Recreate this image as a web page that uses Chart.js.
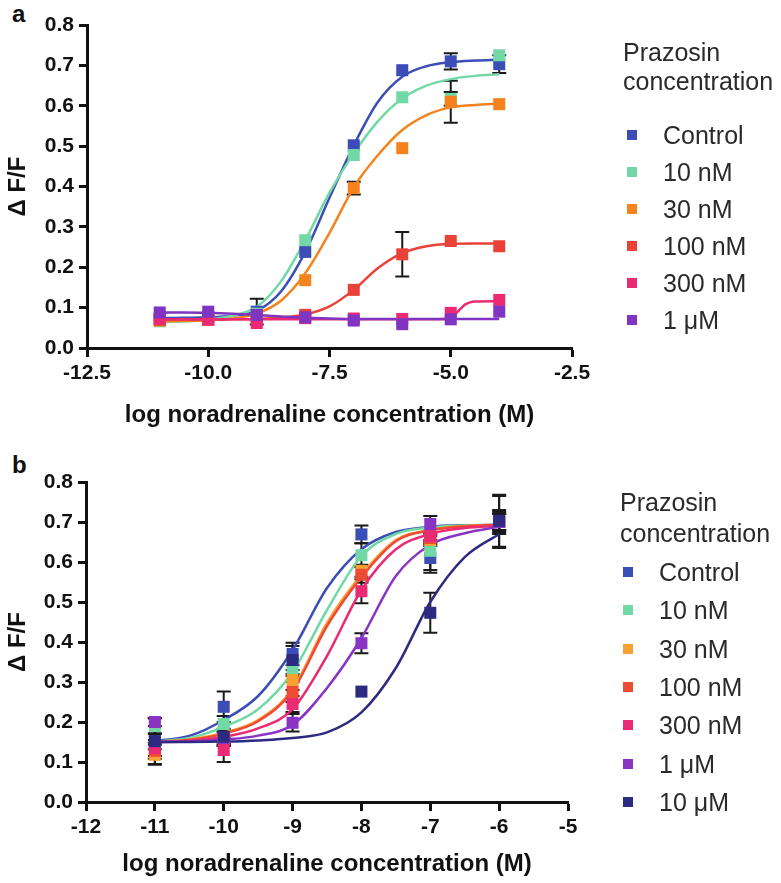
<!DOCTYPE html>
<html>
<head>
<meta charset="utf-8">
<script src="https://cdn.jsdelivr.net/npm/chart.js@4.4.1/dist/chart.umd.min.js"></script>
<style>
  body { margin: 0; width: 781px; height: 883px; background: #fff; position: relative; overflow: hidden;
         font-family: "Liberation Sans", Arial, sans-serif; }
  canvas { position: absolute; left: 0; }
  .panel-label { position: absolute; font-weight: bold; font-size: 24px; line-height: 24px; color: #111; }
  .lg { position: absolute; font-size: 25px; color: #2a2a2a; white-space: nowrap; }
  .lg-box { position: absolute; width: 10px; height: 10px; }
</style>
</head>
<body>
<div class="panel-label" style="left:12px; top:2px;">a</div>
<div class="panel-label" style="left:12px; top:453px;">b</div>
<canvas id="chartA" width="781" height="440" style="top:0"></canvas>
<canvas id="chartB" width="781" height="443" style="top:440px"></canvas>
<div id="legendA"></div>
<div id="legendB"></div>

<script>
// ---------------- dados painel a ----------------
const legendTitle = ['Prazosin', 'concentration'];
const labelsA = ['Control', '10 nM', '30 nM', '100 nM', '300 nM', '1 \u03bcM'];
const xA = [-11, -10, -9, -8, -7, -6, -5, -4];

const aControl = [0.075, 0.078, 0.090, 0.238, 0.502, 0.688, 0.710, 0.703];
const a10nM    = [0.066, 0.072, 0.085, 0.267, 0.478, 0.621, 0.617, 0.725];
const a30nM    = [0.068, 0.070, 0.078, 0.168, 0.396, 0.495, 0.610, 0.604];
const a100nM   = [0.070, 0.071, 0.072, 0.082, 0.144, 0.232, 0.265, 0.252];
const a300nM   = [0.072, 0.070, 0.062, 0.074, 0.073, 0.072, 0.087, 0.119];
const a1uM     = [0.088, 0.090, 0.082, 0.076, 0.068, 0.059, 0.071, 0.090];

const aControlErr = [0, 0, 0.032, 0, 0, 0, 0.020, 0.022];
const a10nMErr    = [0, 0, 0, 0, 0, 0, 0.017, 0];
const a30nMErr    = [0, 0, 0, 0, 0.016, 0, 0.052, 0];
const a100nMErr   = [0, 0, 0, 0, 0, 0.055, 0, 0];
const a300nMErr   = [0, 0, 0, 0, 0, 0, 0, 0];
const a1uMErr     = [0, 0, 0, 0, 0, 0, 0, 0];

// curvas ajustadas
const curveXA = [-11, -10.5, -10, -9.5, -9, -8.5, -8, -7.5, -7, -6.5, -6, -5.5, -5, -4.5, -4];
const aFitControl = [0.074, 0.075, 0.076, 0.080, 0.092, 0.140, 0.238, 0.372, 0.502, 0.610, 0.672, 0.698, 0.708, 0.712, 0.714];
const aFit10nM    = [0.064, 0.066, 0.070, 0.080, 0.102, 0.165, 0.267, 0.385, 0.482, 0.562, 0.618, 0.650, 0.666, 0.674, 0.678];
const aFit30nM    = [0.066, 0.067, 0.069, 0.073, 0.085, 0.117, 0.185, 0.285, 0.398, 0.478, 0.540, 0.577, 0.596, 0.602, 0.605];
const aFit100nM   = [0.070, 0.070, 0.070, 0.071, 0.072, 0.075, 0.083, 0.103, 0.144, 0.198, 0.235, 0.252, 0.258, 0.259, 0.259];
const aFit1uM     = [0.088, 0.088, 0.087, 0.085, 0.082, 0.078, 0.075, 0.073, 0.072, 0.072, 0.072, 0.072, 0.072, 0.072, 0.072];
const curveX300A  = [-11, -10, -9, -8, -7, -6, -5.1, -5.0, -4.9, -4.8, -4.7, -4.6, -4.5, -4];
const aFit300nM   = [0.071, 0.071, 0.071, 0.071, 0.071, 0.071, 0.072, 0.076, 0.085, 0.097, 0.108, 0.113, 0.115, 0.116];

const xTicksA = [-12.5, -2.5, 2.5];   // min, max, passo

// ---------------- dados painel b ----------------
const labelsB = ['Control', '10 nM', '30 nM', '100 nM', '300 nM', '1 \u03bcM', '10 \u03bcM'];
const xB = [-11, -10, -9, -8, -7, -6];

const bControl = [0.152, 0.238, 0.370, 0.669, 0.610, 0.700];
const b10nM    = [0.190, 0.195, 0.335, 0.617, 0.628, 0.700];
const b30nM    = [0.118, 0.160, 0.305, 0.578, 0.655, 0.700];
const b100nM   = [0.128, 0.160, 0.275, 0.568, 0.660, 0.700];
const b300nM   = [0.135, 0.130, 0.245, 0.527, 0.665, 0.700];
const b1uM     = [0.200, 0.160, 0.198, 0.397, 0.695, 0.700];
const b10uM    = [0.152, 0.163, 0.355, 0.276, 0.473, 0.703];

const bControlErr = [0.020, 0.038, 0.028, 0.022, 0.030, 0.065];
const b10nMErr    = [0.020, 0.020, 0.020, 0.030, 0.055, 0.030];
const b30nMErr    = [0.025, 0.020, 0.025, 0.015, 0.010, 0.020];
const b100nMErr   = [0.020, 0.020, 0.025, 0.020, 0.010, 0.025];
const b300nMErr   = [0.020, 0.030, 0.020, 0.030, 0.010, 0.020];
const b1uMErr     = [0.010, 0.015, 0.022, 0.025, 0.020, 0.020];
const b10uMErr    = [0.057, 0.020, 0.035, 0, 0.050, 0.065];

const curveXB = [-11, -10.5, -10, -9.5, -9, -8.5, -8, -7.5, -7, -6.5, -6];
const bFitControl = [0.152, 0.165, 0.205, 0.265, 0.380, 0.535, 0.632, 0.675, 0.688, 0.692, 0.693];
const bFit10nM    = [0.151, 0.160, 0.188, 0.232, 0.325, 0.480, 0.615, 0.670, 0.686, 0.691, 0.693];
const bFit30nM    = [0.150, 0.156, 0.173, 0.205, 0.282, 0.448, 0.568, 0.655, 0.680, 0.690, 0.693];
const bFit100nM   = [0.150, 0.155, 0.171, 0.202, 0.278, 0.440, 0.562, 0.652, 0.679, 0.689, 0.693];
const bFit300nM   = [0.150, 0.153, 0.163, 0.184, 0.232, 0.365, 0.530, 0.632, 0.670, 0.685, 0.690];
const bFit1uM     = [0.150, 0.151, 0.156, 0.166, 0.193, 0.285, 0.410, 0.565, 0.643, 0.672, 0.688];
const bFit10uM    = [0.150, 0.150, 0.151, 0.154, 0.160, 0.174, 0.224, 0.335, 0.500, 0.612, 0.670];

const xTicksB = [-12, -5, 1];
const yTicks = [0, 0.8, 0.1];

// ---------------- estilos ----------------
const coresA = ['#3d4db7', '#72d9a6', '#f4831f', '#e94239', '#ea2a72', '#7f35c2'];
const coresB = ['#3d4db7', '#72d9a6', '#f7a036', '#ee4a34', '#ea2a72', '#8a34c4', '#2d2a82'];
const FONTE = '"Liberation Sans", Arial, sans-serif';

const pares = (xs, ys) => xs.map((x, i) => ({ x: x, y: ys[i] }));

// plugin simples para as barras de erro (desenhadas pelas escalas do gráfico)
const barrasErro = {
    id: 'barrasErro',
    beforeDatasetsDraw(chart) {
        const { ctx, scales: { x, y } } = chart;
        ctx.save();
        ctx.strokeStyle = '#1a1a1a';
        ctx.lineWidth = 2;
        chart.data.datasets.forEach(ds => {
            if (!ds.erros) return;
            ds.data.forEach((p, i) => {
                const e = ds.erros[i];
                if (!e) return;
                const px = x.getPixelForValue(p.x);
                const top = y.getPixelForValue(p.y + e);
                const bot = y.getPixelForValue(p.y - e);
                ctx.beginPath();
                ctx.moveTo(px, top); ctx.lineTo(px, bot);
                ctx.moveTo(px - 7, top); ctx.lineTo(px + 7, top);
                ctx.moveTo(px - 7, bot); ctx.lineTo(px + 7, bot);
                ctx.stroke();
            });
        });
        ctx.restore();
    }
};

function montarDatasets(xs, series, erros, curvasX, curvas, cores) {
    const n = series.length;
    const ds = [];
    series.forEach((s, i) => {
        ds.push({
            data: pares(xs, s),
            erros: erros[i],
            showLine: false,
            pointStyle: 'rect',
            pointRadius: 8.5,
            pointBorderWidth: 0,
            backgroundColor: cores[i],
            borderColor: cores[i],
            order: n - i
        });
    });
    curvas.forEach((c, i) => {
        ds.push({
            data: pares(curvasX[i], c),
            showLine: true,
            pointRadius: 0,
            borderWidth: 2.5,
            borderColor: cores[i],
            backgroundColor: cores[i],
            cubicInterpolationMode: 'monotone',
            fill: false,
            order: 100 + n - i
        });
    });
    return ds;
}

function opcoesEixos(cfg) {
    const tickFont = { family: FONTE, size: 21, weight: 'bold' };
    const titleFont = { family: FONTE, size: 24, weight: 'bold' };
    return {
        x: {
            type: 'linear',
            min: cfg.xt[0], max: cfg.xt[1],
            ticks: { stepSize: cfg.xt[2], color: '#111', font: tickFont, padding: 4,
                     callback: cfg.fmtX },
            grid: { drawOnChartArea: false, drawTicks: true, tickLength: 9, tickWidth: 3, tickColor: '#111' },
            border: { display: true, color: '#111', width: 3 },
            title: { display: true, text: 'log noradrenaline concentration (M)', color: '#111',
                     font: titleFont, padding: { top: 0, bottom: cfg.xTitlePad } },
            afterFit: s => { s.height = cfg.xH; }
        },
        y: {
            type: 'linear',
            min: yTicks[0], max: yTicks[1],
            ticks: { stepSize: yTicks[2], color: '#111', font: tickFont, padding: 5,
                     callback: v => Number(v).toFixed(1) },
            grid: { drawOnChartArea: false, drawTicks: true, tickLength: 8, tickWidth: 3, tickColor: '#111' },
            border: { display: true, color: '#111', width: 3 },
            title: { display: true, text: '\u0394 F/F', color: '#111', font: titleFont,
                     padding: { top: 4, bottom: 0 } },
            afterFit: s => { s.width = cfg.yW; }
        }
    };
}

function criarGrafico(id, datasets, cfg) {
    return new Chart(document.getElementById(id).getContext('2d'), {
        type: 'scatter',
        data: { datasets: datasets },
        options: {
            responsive: false,
            animation: false,
            layout: { padding: cfg.padding },
            scales: opcoesEixos(cfg),
            plugins: { legend: { display: false }, tooltip: { enabled: false } }
        },
        plugins: [barrasErro]
    });
}

function montarLegenda(id, labels, cores, pos) {
    const el = document.getElementById(id);
    let html = '';
    legendTitle.forEach((t, i) => {
        html += `<div class="lg" style="left:${pos.titleX}px; top:${pos.titleY[i] - 15}px; line-height:30px;">${t}</div>`;
    });
    labels.forEach((l, i) => {
        const cy = pos.y0 + i * pos.dy;
        html += `<div class="lg-box" style="left:${pos.boxX}px; top:${cy - 5}px; background:${cores[i]};"></div>`;
        html += `<div class="lg" style="left:${pos.textX}px; top:${cy - 15}px; line-height:30px;">${l}</div>`;
    });
    el.innerHTML = html;
}

// ---------------- painel a ----------------
criarGrafico('chartA',
    montarDatasets(xA,
        [aControl, a10nM, a30nM, a100nM, a300nM, a1uM],
        [aControlErr, a10nMErr, a30nMErr, a100nMErr, a300nMErr, a1uMErr],
        [curveXA, curveXA, curveXA, curveXA, curveX300A, curveXA],
        [aFitControl, aFit10nM, aFit30nM, aFit100nM, aFit300nM, aFit1uM],
        coresA),
    { xt: xTicksA, fmtX: v => Number(v).toFixed(1), xH: 92, yW: 87, xTitlePad: 10,
      padding: { left: 0, top: 25, right: 209, bottom: 0 } });

// ---------------- painel b ----------------
criarGrafico('chartB',
    montarDatasets(xB,
        [bControl, b10nM, b30nM, b100nM, b300nM, b1uM, b10uM],
        [bControlErr, b10nMErr, b30nMErr, b100nMErr, b300nMErr, b1uMErr, b10uMErr],
        [curveXB, curveXB, curveXB, curveXB, curveXB, curveXB, curveXB],
        [bFitControl, bFit10nM, bFit30nM, bFit100nM, bFit300nM, bFit1uM, bFit10uM],
        coresB),
    { xt: xTicksB, fmtX: v => String(v), xH: 81, yW: 86, xTitlePad: 4,
      padding: { left: 0, top: 42, right: 213, bottom: 0 } });

montarLegenda('legendA', labelsA, coresA,
    { titleX: 623, titleY: [52, 81], boxX: 627, textX: 663, y0: 135, dy: 37 });
montarLegenda('legendB', labelsB, coresB,
    { titleX: 620, titleY: [502, 533], boxX: 623, textX: 659, y0: 572, dy: 38.3 });
</script>
</body>
</html>
